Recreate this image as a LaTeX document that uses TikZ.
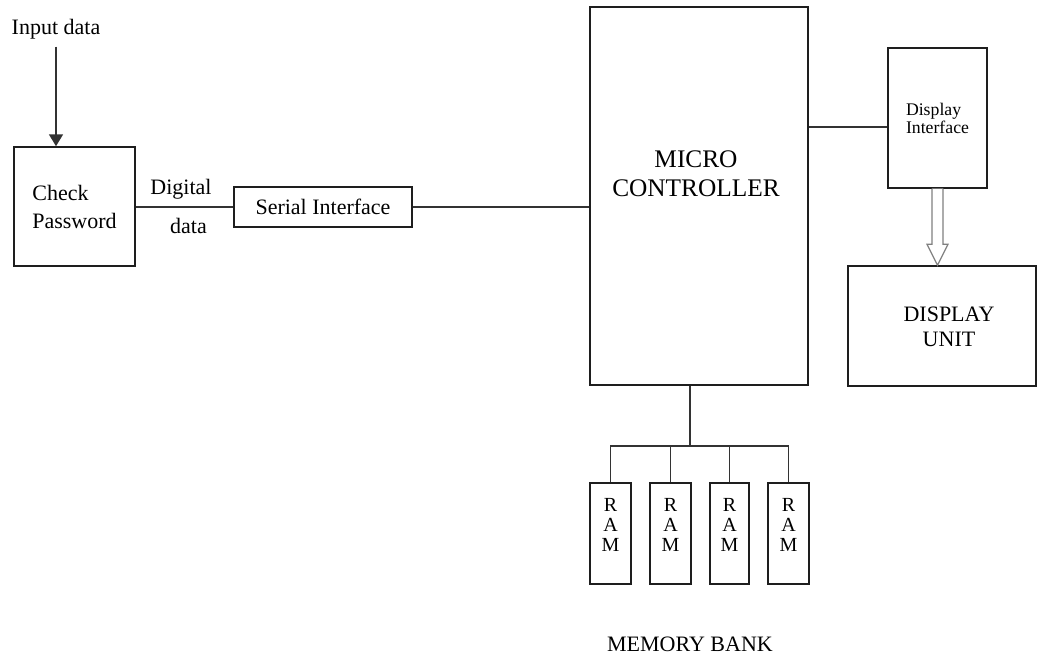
\documentclass[tikz,border=0pt]{standalone}
\usepackage{fontspec}
\setmainfont{Liberation Serif}
\usetikzlibrary{positioning,arrows.meta,calc}
\definecolor{inkline}{HTML}{1E1E1E}
\definecolor{wiregrey}{HTML}{333333}
\definecolor{hollowgrey}{HTML}{808080}

\begin{document}
\begin{tikzpicture}[
  x=0.75pt, y=-0.75pt,
  block/.style={draw=inkline, line width=1.1pt, fill=white, inner sep=0,
                align=left, font=\fontsize{16.5}{21}\selectfont},
  % box size in pixels of the page
  sz/.style 2 args={minimum width=#1*0.75pt, minimum height=#2*0.75pt},
  wire/.style={draw=wiregrey, line width=1.2pt},
  txt/.style={inner sep=0, font=\fontsize{16.5}{21}\selectfont},
  bigtxt/.style={inner sep=0, align=center, font=\fontsize{19}{21.75}\selectfont},
  ramtxt/.style={inner sep=0, align=center, font=\fontsize{15}{14.8}\selectfont},
  hollow/.style={draw=hollowgrey, line width=0.9pt, fill=white, line join=miter}
]
\useasboundingbox (0,0) rectangle (1039,655);

% ══ blocks ═════════════════════════════════════════════════════════════════
\node[block, sz={121}{119}] (check) at (74.5,206.5) {Check\\Password};
\node[block, sz={178}{40}, align=center] (serial) at (323,207) {Serial Interface};
\node[block, sz={218}{378}] (micro) at (699,196) {};
\node[bigtxt] (microlbl) at (696,174) {MICRO\\CONTROLLER};
\node[block, sz={99}{140}, font=\fontsize{13.3}{13.5}\selectfont] (dispif)
  at (937.5,118) {Display\\Interface};
\node[block, sz={188}{120}] (dispunit) at (942,326) {};
\node[txt, align=center, font=\fontsize{16.5}{18.75}\selectfont] (dispunitlbl)
  at (949,327) {DISPLAY\\UNIT};

% ══ input ══════════════════════════════════════════════════════════════════
\node[txt, anchor=base] (input) at (56,35) {Input data};
\draw[wire, -{Triangle[length=9pt, width=10.5pt]}, shorten <=5pt]
  (input.south) -- (input.south |- check.north);

% ══ data path ══════════════════════════════════════════════════════════════
\draw[wire] (check.east |- serial.west) --
  node[txt, above=5.3pt, xshift=-2.6pt] (digital) {Digital}
  node[txt, below=8.2pt, xshift=3pt] (datalbl) {data} (serial.west);
\draw[wire] (serial.east) -- (serial.east -| micro.west);
\draw[wire] (micro.east |- 0,127) -- (dispif.west |- 0,127);

% hollow arrow, display interface to display unit
\coordinate (tip) at (dispif.south |- dispunit.north);
\draw[hollow] ($(dispif.south)+(-5.5,0)$) -- ($(tip)+(-5.5,-21)$)
  -- ($(tip)+(-10.5,-21)$) -- (tip) -- ($(tip)+(10.5,-21)$)
  -- ($(tip)+(5.5,-21)$) -- ($(dispif.south)+(5.5,0)$);

% ══ memory bank ════════════════════════════════════════════════════════════
\foreach \i/\cx/\w in {1/610.5/41, 2/670.5/41, 3/729.5/39, 4/788.5/41}{
  \node[block, sz={\w}{101}] (ram\i) at (\cx,533.5) {};
  \node[ramtxt] (ramlbl\i) at (\cx,525) {R\\A\\M};
}
\coordinate (bus) at (690,446);
\draw[wire] (micro.south -| bus) -- (bus);
\draw[wire] (ram1.north) -- (ram1.north |- bus) -- (ram4.north |- bus) -- (ram4.north);
\foreach \i in {2,3}{
  \draw[wire] (ram\i.north) -- (ram\i.north |- bus);
}
\node[txt, anchor=base] (memlbl) at (690,651) {MEMORY BANK};

\end{tikzpicture}
\end{document}
